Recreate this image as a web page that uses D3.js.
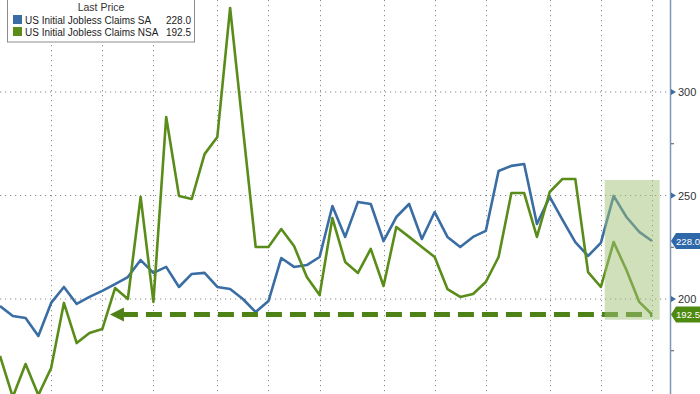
<!DOCTYPE html>
<html><head><meta charset="utf-8">
<script src="https://cdn.jsdelivr.net/npm/d3@7"></script>
<style>html,body{margin:0;padding:0;background:#fff;}svg{display:block;}</style>
</head><body>
<svg id="chart" width="700" height="394"></svg>
<script>
// Weekly observations (index 0..51), thousands
const weeks = d3.range(52);
const saValues = [196.6,191.8,190.8,182.1,198.1,205.8,197.6,201.0,203.9,207.2,210.6,218.8,212.6,215.5,205.8,212.1,212.6,205.8,204.8,200.0,193.7,199.0,219.8,215.5,216.4,220.3,244.9,230.0,246.9,245.9,228.0,239.6,245.9,229.0,242.0,230.0,225.1,230.0,232.9,261.8,264.3,265.2,236.2,249.3,238.2,227.5,220.8,227.1,249.8,239.6,232.4,228.0];
const nsaValues = [172.5,152.7,168.6,153.6,166.7,198.1,178.7,183.6,185.5,205.3,200.0,249.3,198.6,287.9,249.8,248.3,270.0,278.3,340.6,282.6,225.1,225.1,233.8,225.6,210.6,201.9,239.1,217.9,212.6,224.2,206.3,234.8,230.0,225.1,220.3,204.8,201.0,202.4,208.2,220.3,251.2,251.2,230.0,251.7,258.0,258.0,213.0,205.8,227.5,214.0,198.6,192.5];
const seriesNames = ["US Initial Jobless Claims SA","US Initial Jobless Claims NSA"];
const lastValues = ["228.0","192.5"];
const monthGridWeeks = [4,8,12,17,21,25,30,34,38,43,47,51];
const majorTicks = [200,250,300];
const minorTicks = [175,225,275];
const arrowLevel = 192.5;
const arrowFromWeek = 8.6;
const highlightWeeks = [47.3,51.6];
const highlightRange = [190.0,257.5];

const svg = d3.select("#chart");
const W = 700, H = 394, axisX = 670;
const blue = "#3a6da3", green = "#5a8c1a";
const FONT = "Liberation Sans, Arial, sans-serif";

const x = d3.scaleLinear().domain([0,51]).range([0,652]);
const y = d3.scaleLinear().domain([200,300]).range([299,92]);

const plot = svg.append("g");
svg.append("defs").append("clipPath").attr("id","clip")
  .append("rect").attr("x",0).attr("y",0).attr("width",axisX).attr("height",H);

// gridlines
plot.append("g").selectAll("line").data(majorTicks).join("line")
  .attr("x1",0).attr("x2",axisX).attr("y1",d=>y(d)).attr("y2",d=>y(d))
  .attr("stroke","#8a8a8a").attr("stroke-width",1).attr("stroke-dasharray","1.2,3.8");
plot.append("g").selectAll("line").data(monthGridWeeks).join("line")
  .attr("x1",d=>Math.round(x(d))+0.5).attr("x2",d=>Math.round(x(d))+0.5).attr("y1",0).attr("y2",H)
  .attr("stroke","#8a8a8a").attr("stroke-width",1).attr("stroke-dasharray","1.2,3.8");

const g = plot.append("g").attr("clip-path","url(#clip)");
const line = d3.line().x((d,i)=>x(i)).y(d=>y(d));

g.append("path").datum(saValues).attr("d",line).attr("fill","none")
  .attr("stroke",blue).attr("stroke-width",2.6).attr("stroke-linejoin","round");
g.append("path").datum(nsaValues).attr("d",line).attr("fill","none")
  .attr("stroke",green).attr("stroke-width",2.6).attr("stroke-linejoin","round");

// dashed arrow
const ay = y(arrowLevel);
g.append("line").attr("x1",x(arrowFromWeek)+12).attr("x2",x(51)).attr("y1",ay).attr("y2",ay)
  .attr("stroke","#4f8216").attr("stroke-width",5).attr("stroke-dasharray","16,8");
g.append("path")
  .attr("d",`M${x(arrowFromWeek)},${ay} L${x(arrowFromWeek)+14},${ay-7} L${x(arrowFromWeek)+14},${ay+7} Z`)
  .attr("fill","#4f8216");

// highlight rectangle
g.append("rect").attr("x",x(highlightWeeks[0])).attr("width",x(highlightWeeks[1])-x(highlightWeeks[0]))
  .attr("y",y(highlightRange[1])).attr("height",y(highlightRange[0])-y(highlightRange[1]))
  .attr("fill","#9fc278").attr("fill-opacity",0.5);

// right axis
const axis = d3.axisRight(y).tickValues(majorTicks).tickSize(0).tickPadding(8).tickFormat(d3.format("d"));
const ag = svg.append("g").attr("transform",`translate(${axisX},0)`).call(axis);
ag.select(".domain").remove();
ag.selectAll("text").attr("font-family",FONT).attr("font-size",11).attr("fill","#333");
svg.append("line").attr("x1",axisX+0.5).attr("x2",axisX+0.5).attr("y1",0).attr("y2",H)
  .attr("stroke","#7d97b5").attr("stroke-width",1.5);
svg.append("g").selectAll("path").data(majorTicks).join("path")
  .attr("d",d=>`M${axisX+1},${y(d)-3} L${axisX+6},${y(d)} L${axisX+1},${y(d)+3} Z`).attr("fill","#3a6da3");
svg.append("g").selectAll("line").data(minorTicks).join("line")
  .attr("x1",axisX+1).attr("x2",axisX+4).attr("y1",d=>y(d)).attr("y2",d=>y(d))
  .attr("stroke","#555").attr("stroke-width",1);

// last-value callouts
const callouts = [{v:saValues[51],t:lastValues[0],c:"#2f68a8"},{v:nsaValues[51],t:lastValues[1],c:"#4f8a10"}];
const cg = svg.append("g").selectAll("g").data(callouts).join("g")
  .attr("transform",d=>`translate(${axisX+1},${y(d.v)})`);
cg.append("path").attr("d","M0,0 L5,-8 L40,-8 L40,8 L5,8 Z").attr("fill",d=>d.c);
cg.append("text").attr("x",5).attr("y",3.5).text(d=>d.t).attr("fill","#fff")
  .attr("font-family",FONT).attr("font-size",9.6);

// legend
const lg = svg.append("g");
lg.append("rect").attr("x",7.5).attr("y",-2).attr("width",187).attr("height",44)
  .attr("fill","#fff").attr("stroke","#8c8c8c").attr("stroke-width",1);
lg.append("text").attr("x",101).attr("y",11).attr("text-anchor","middle").text("Last Price")
  .attr("font-family",FONT).attr("font-size",10.5).attr("fill","#333");
const rows = lg.selectAll("g.row").data(seriesNames).join("g").attr("class","row")
  .attr("transform",(d,i)=>`translate(0,${i*12})`);
rows.append("rect").attr("x",13).attr("y",15).attr("width",9).attr("height",9).attr("fill",(d,i)=>i===0?blue:green);
rows.append("text").attr("x",25).attr("y",23.5).text(d=>d)
  .attr("font-family",FONT).attr("font-size",10).attr("fill","#222");
rows.append("text").attr("x",191).attr("y",23.5).attr("text-anchor","end").text((d,i)=>lastValues[i])
  .attr("font-family",FONT).attr("font-size",10).attr("fill","#222");
</script>
</body></html>
